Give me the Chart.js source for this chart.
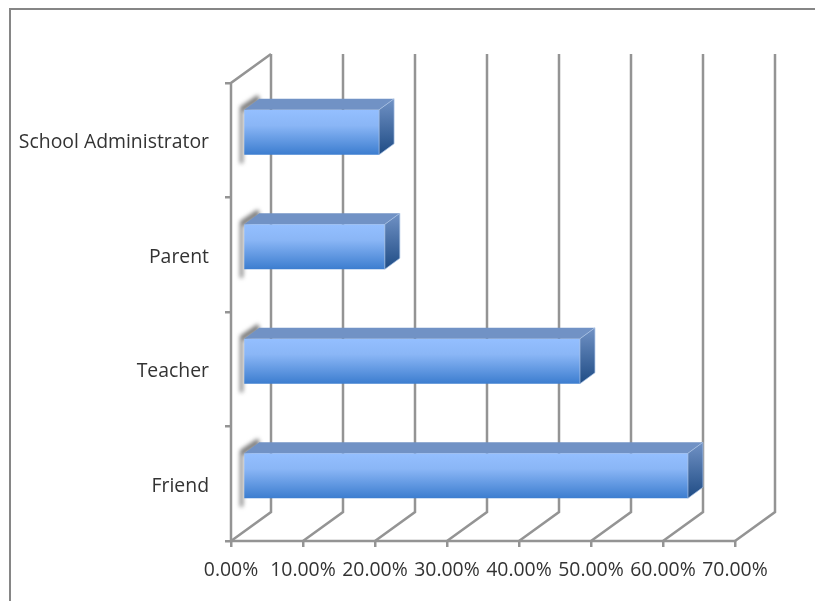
<!DOCTYPE html>
<html>
<head>
<meta charset="utf-8">
<script src="https://cdn.jsdelivr.net/npm/chart.js@4"></script>
<style>
  html, body { margin: 0; padding: 0; background: #fff; overflow: hidden; }
  #frame { position: absolute; left: 9px; top: 8px; width: 806px; height: 593px;
           border-top: 2px solid #868686; border-left: 2px solid #868686; box-sizing: border-box; }
  #wrap { position: absolute; left: 0; top: 0; width: 815px; height: 601px; }
  canvas { display: block; }
</style>
</head>
<body>
<div id="frame"></div>
<div id="wrap"><canvas id="chart" width="815" height="601"></canvas></div>
<script>
// data
const CATEGORIES = ['School Administrator', 'Parent', 'Teacher', 'Friend'];
const VALUES = [18.9, 19.7, 46.8, 61.8];
const X_TICKS = ['0.00%', '10.00%', '20.00%', '30.00%', '40.00%', '50.00%', '60.00%', '70.00%'];

const GRID = '#949494';
const FONT = "'Open Sans', Lato, sans-serif";

// 3D look: wall depth and how far the bars sit in front of the wall
const WALL_DX = 40, WALL_DY = -29;
const BAR_SHIFT_X = 12, BAR_SHIFT_Y = -8;
const BAR_DX = 15, BAR_DY = -11;
const BAR_PCT = 0.393;

function poly(ctx, pts, fill) {
  ctx.beginPath();
  pts.forEach((p, i) => i ? ctx.lineTo(p[0], p[1]) : ctx.moveTo(p[0], p[1]));
  ctx.closePath();
  ctx.fillStyle = fill;
  ctx.fill();
}

const walls3d = {
  id: 'walls3d',
  beforeDatasetsDraw(chart) {
    const { ctx, scales: { x, y }, chartArea: a } = chart;
    ctx.save();
    ctx.strokeStyle = GRID;
    ctx.lineWidth = 2.5;

    // back wall lines and floor diagonals
    x.ticks.forEach(t => {
      const px = x.getPixelForValue(t.value);
      ctx.beginPath();
      ctx.moveTo(px, a.bottom);
      ctx.lineTo(px + WALL_DX, a.bottom + WALL_DY);
      ctx.lineTo(px + WALL_DX, a.top + WALL_DY);
      ctx.stroke();
    });

    // side wall
    const x0 = x.getPixelForValue(0);
    ctx.beginPath();
    ctx.moveTo(x0, a.bottom);
    ctx.lineTo(x0, a.top);
    ctx.lineTo(x0 + WALL_DX, a.top + WALL_DY);
    ctx.stroke();

    // floor front edge
    ctx.beginPath();
    ctx.moveTo(x0, a.bottom);
    ctx.lineTo(a.right, a.bottom);
    ctx.stroke();

    // soft shadow of each bar on the side wall
    chart.getDatasetMeta(0).data.forEach(bar => {
      const top = bar.y - bar.height / 2 + BAR_SHIFT_Y;
      const bot = bar.y + bar.height / 2 + BAR_SHIFT_Y;
      const left = x0 + BAR_SHIFT_X;
      ctx.save();
      ctx.filter = 'blur(2px)';
      poly(ctx, [[left - 3, top - 3], [left + 15, top - 15], [left + 17, top - 9], [left, top + 2], [left, bot + 8], [left - 3, bot + 9]], 'rgba(95,95,95,0.85)');
      ctx.restore();
    });
    ctx.restore();

    ctx.save();
    ctx.translate(BAR_SHIFT_X, BAR_SHIFT_Y);
  },
  afterDatasetsDraw(chart) {
    const { ctx } = chart;
    chart.getDatasetMeta(0).data.forEach(bar => {
      const l = bar.base, r = bar.x;
      const t = bar.y - bar.height / 2, b = bar.y + bar.height / 2;
      poly(ctx, [[l, t], [l + BAR_DX, t + BAR_DY], [r + BAR_DX, t + BAR_DY], [r, t]], '#7192c5');
      const g = ctx.createLinearGradient(0, t + BAR_DY, 0, b);
      g.addColorStop(0, '#7192c5');
      g.addColorStop(1, '#1f4c85');
      poly(ctx, [[r, t], [r + BAR_DX, t + BAR_DY], [r + BAR_DX, b + BAR_DY], [r, b]], g);
      ctx.strokeStyle = 'rgba(170,195,230,0.7)';
      ctx.lineWidth = 1;
      ctx.stroke();
    });
    ctx.restore();
  }
};

function frontFace(c) {
  const { ctx, scales: { y } } = c.chart;
  if (!y || !c.chart.chartArea) return '#6aa0ec';
  const mid = y.getPixelForValue(c.dataIndex);
  const half = (y.height / CATEGORIES.length) * BAR_PCT / 2;
  const g = ctx.createLinearGradient(0, mid - half, 0, mid + half);
  g.addColorStop(0, '#94bfff');
  g.addColorStop(0.35, '#8ab6f6');
  g.addColorStop(1, '#3c7dcf');
  return g;
}

new Chart(document.getElementById('chart'), {
  type: 'bar',
  data: {
    labels: CATEGORIES,
    datasets: [{
      data: VALUES,
      backgroundColor: frontFace,
      borderWidth: 0,
      barPercentage: BAR_PCT,
      categoryPercentage: 1,
      clip: false
    }]
  },
  options: {
    indexAxis: 'y',
    responsive: false,
    animation: false,
    layout: { padding: { top: 83, right: 80, bottom: 0, left: 0 } },
    plugins: { legend: { display: false }, tooltip: { enabled: false } },
    scales: {
      x: {
        min: 0,
        max: 70,
        afterFit(s) { s.height = 60; },
        border: { display: false },
        grid: { drawOnChartArea: false, color: GRID, lineWidth: 2.5, tickLength: 6 },
        ticks: {
          stepSize: 10,
          maxRotation: 0,
          autoSkip: false,
          padding: 12,
          color: '#333',
          font: { family: FONT, size: 19.4 },
          callback: (v, i) => X_TICKS[i]
        }
      },
      y: {
        afterFit(s) { s.width = 231; },
        border: { display: false },
        grid: { drawOnChartArea: false, color: GRID, lineWidth: 2.5, tickLength: 6, offset: true },
        ticks: {
          padding: 16,
          labelOffset: 2.5,
          color: '#333',
          font: { family: FONT, size: 19.4 }
        }
      }
    }
  },
  plugins: [walls3d]
});
</script>
</body>
</html>
